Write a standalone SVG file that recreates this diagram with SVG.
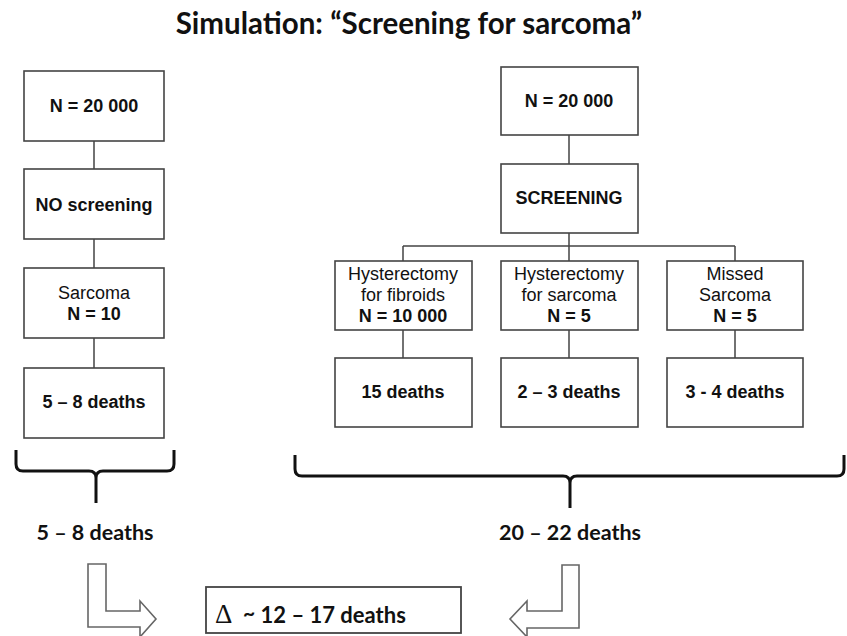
<svg xmlns="http://www.w3.org/2000/svg" width="847" height="636" viewBox="0 0 847 636">
<style>
.box{fill:#fff;stroke:#444;stroke-width:1.6}
.t{font-family:"Liberation Sans",Arial,sans-serif;font-size:18px;fill:#111;text-anchor:middle}
.b{font-weight:bold}
.conn{stroke:#444;stroke-width:1.5;fill:none}
.brace{stroke:#111;stroke-width:3;fill:none;stroke-linejoin:round}
.arrow{fill:#fff;stroke:#666;stroke-width:1.6;stroke-linejoin:miter}
.c{font-family:Lato,"Open Sans",sans-serif;font-weight:bold;fill:#111;text-anchor:middle}
</style>
<rect width="847" height="636" fill="#fff"/>
<text class="c" x="409" y="34" font-size="29.5">Simulation:  “Screening for sarcoma”</text>

<g id="connectors">
<path class="conn" d="M94,141V169M94,239V268M94,338V368"/>
<path class="conn" d="M569,135V164M569,233V261M403,246H735M403,246V261M735,246V261"/>
<path class="conn" d="M403,330V358M569,330V358M735,330V358"/>
</g>

<g id="left-n"><rect class="box" x="24" y="71" width="140" height="70"/><text class="t b" x="94" y="112">N = 20 000</text></g>
<g id="no-screening"><rect class="box" x="24" y="169" width="140" height="70"/><text class="t b" x="94" y="211">NO screening</text></g>
<g id="left-sarcoma"><rect class="box" x="24" y="268" width="140" height="70"/><text class="t" x="94" y="299">Sarcoma</text><text class="t b" x="94" y="320">N = 10</text></g>
<g id="left-deaths"><rect class="box" x="24" y="368" width="140" height="70"/><text class="t b" x="94" y="408">5 – 8 deaths</text></g>

<g id="right-n"><rect class="box" x="501" y="67" width="137" height="68"/><text class="t b" x="569" y="107">N = 20 000</text></g>
<g id="screening"><rect class="box" x="501" y="164" width="137" height="69"/><text class="t b" x="569" y="204">SCREENING</text></g>
<g id="hyst-fibroids"><rect class="box" x="335" y="261" width="137" height="69"/><text class="t" x="403" y="280">Hysterectomy</text><text class="t" x="403" y="301">for fibroids</text><text class="t b" x="403" y="322">N = 10 000</text></g>
<g id="hyst-sarcoma"><rect class="box" x="501" y="261" width="137" height="69"/><text class="t" x="569" y="280">Hysterectomy</text><text class="t" x="569" y="301">for sarcoma</text><text class="t b" x="569" y="322">N = 5</text></g>
<g id="missed"><rect class="box" x="667" y="261" width="136" height="69"/><text class="t" x="735" y="280">Missed</text><text class="t" x="735" y="301">Sarcoma</text><text class="t b" x="735" y="322">N = 5</text></g>
<g id="deaths-15"><rect class="box" x="335" y="358" width="137" height="69"/><text class="t b" x="403" y="398">15 deaths</text></g>
<g id="deaths-2-3"><rect class="box" x="501" y="358" width="137" height="69"/><text class="t b" x="569" y="398">2 – 3 deaths</text></g>
<g id="deaths-3-4"><rect class="box" x="667" y="358" width="136" height="69"/><text class="t b" x="735" y="398">3 - 4 deaths</text></g>

<g id="left-brace"><path class="brace" d="M16,450V464Q16,471 23,471H89Q96,471 96,478V503M96,478Q96,471 103,471H167Q174,471 174,464V450"/></g>
<g id="right-brace"><path class="brace" d="M295,455V469Q295,476 302,476H563Q570,476 570,483V508M570,483Q570,476 577,476H837Q844,476 844,469V455"/></g>

<g id="left-total"><text class="c" x="95" y="540" font-size="21.5">5 – 8 deaths</text></g>
<g id="right-total"><text class="c" x="570" y="540" font-size="21.5">20 – 22 deaths</text></g>

<g id="left-arrow"><path class="arrow" d="M88,564H106V611H140V601L156,619L140,637V627H88Z"/></g>
<g id="right-arrow"><path class="arrow" d="M579,565H562V611H527V601L510,619L527,637V628H579Z"/></g>

<g id="delta"><rect x="206" y="587" width="255" height="46" fill="#fff" stroke="#444" stroke-width="1.8"/>
<text x="215" y="623" font-family="'Liberation Serif','Times New Roman',serif" font-size="27" fill="#111">Δ</text>
<text x="243" y="623" font-family="Lato,sans-serif" font-weight="bold" font-size="22" fill="#111"><tspan font-size="21" dy="-2">~</tspan><tspan dy="2"> 12 – 17 deaths</tspan></text></g>
</svg>
